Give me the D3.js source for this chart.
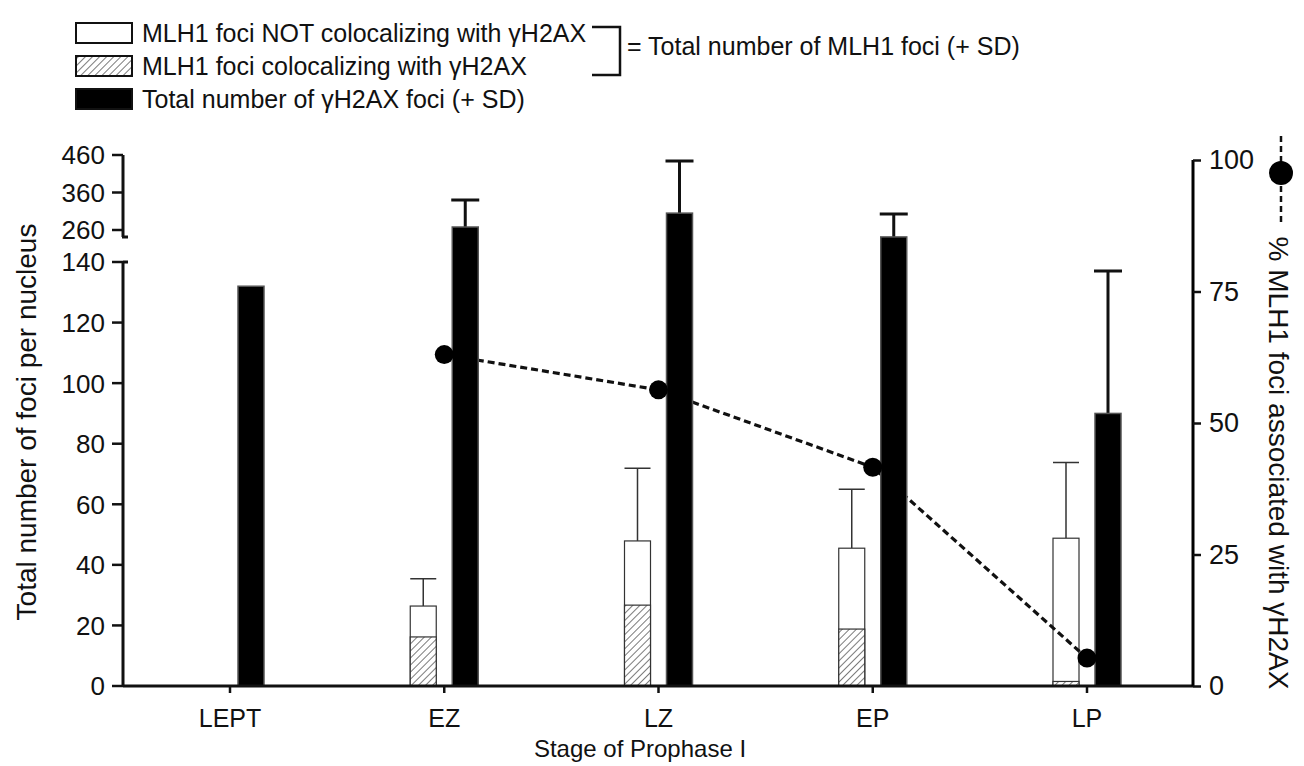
<!DOCTYPE html>
<html>
<head>
<meta charset="utf-8">
<script src="https://cdn.jsdelivr.net/npm/d3@7"></script>
<style>
  body { margin: 0; background: #fff; }
  text { font-family: "Liberation Sans", Arial, sans-serif; fill: #111; }
</style>
</head>
<body>
<div id="chart"></div>
<script>
// data
let stages = ["LEPT", "EZ", "LZ", "EP", "LP"];
let h2axMean = [132, 268, 305, 234, 90];      // total gH2AX foci
let h2axSD = [0, 72, 139, 69, 47];
let mlhTotal = [0, 26.4, 47.9, 45.5, 48.8];   // total MLH1 foci
let mlhColoc = [0, 16.2, 26.7, 18.8, 1.5];    // MLH1 colocalizing with gH2AX
let mlhSD = [0, 9, 24, 19.5, 25];
let pctAssoc = [null, 63, 56.3, 41.6, 5.3];   // % MLH1 associated with gH2AX
let lowTicks = [0, 20, 40, 60, 80, 100, 120, 140];
let highTicks = [260, 360, 460];
let rightTicks = [0, 25, 50, 75, 100];

let width = 1304, height = 766;
let left = 123, right = 1193, base = 686;

let svg = d3.select("#chart").append("svg")
  .attr("width", width)
  .attr("height", height);

let defs = svg.append("defs");
defs.append("pattern")
  .attr("id", "hatch")
  .attr("patternUnits", "userSpaceOnUse")
  .attr("width", 5).attr("height", 5)
  .attr("patternTransform", "rotate(45)")
  .call(p => {
    p.append("rect").attr("width", 5).attr("height", 5).attr("fill", "#fff");
    p.append("line").attr("x1", 0).attr("y1", 0).attr("x2", 0).attr("y2", 5)
      .attr("stroke", "#222").attr("stroke-width", 1.2);
  });

// x positions of stages
let x = d3.scalePoint().domain(stages).range([230, 1087]);

// broken left axis: 0-140 below, 260-460 above
let y = d3.scaleLinear()
  .domain([0, 140, 260, 460])
  .range([base, 262, 230, 155]);

let yRight = d3.scaleLinear().domain([0, 100]).range([base, 160]);

let barW = 26, gap = 8;
let rows = stages.map((s, i) => ({
  stage: s,
  h2ax: h2axMean[i], h2axSD: h2axSD[i],
  total: mlhTotal[i], coloc: mlhColoc[i], sd: mlhSD[i],
  pct: pctAssoc[i]
}));

// MLH1 bars
let mlh = rows.filter(d => d.total > 0);
svg.selectAll(".mlh-err")
  .data(mlh).enter().append("path")
  .attr("class", "mlh-err")
  .attr("d", d => {
    let cx = x(d.stage) - gap - barW / 2;
    let yt = y(d.total + d.sd);
    return "M" + cx + "," + y(d.total) + "V" + yt +
      "M" + (cx - barW / 2) + "," + yt + "H" + (cx + barW / 2);
  })
  .attr("fill", "none").attr("stroke", "#333").attr("stroke-width", 1.5);

svg.selectAll(".mlh-tot")
  .data(mlh).enter().append("rect")
  .attr("x", d => x(d.stage) - gap - barW)
  .attr("width", barW)
  .attr("y", d => y(d.total))
  .attr("height", d => base - y(d.total))
  .attr("fill", "#fff").attr("stroke", "#333").attr("stroke-width", 1.2);

svg.selectAll(".mlh-col")
  .data(mlh).enter().append("rect")
  .attr("x", d => x(d.stage) - gap - barW)
  .attr("width", barW)
  .attr("y", d => y(d.coloc))
  .attr("height", d => base - y(d.coloc))
  .attr("fill", "url(#hatch)").attr("stroke", "#333").attr("stroke-width", 1.2);

// dashed % line (over the MLH1 bars, under the black bars)
let linePts = rows.filter(d => d.pct != null);
let line = d3.line().x(d => x(d.stage)).y(d => yRight(d.pct));
svg.append("path")
  .datum(linePts)
  .attr("d", line)
  .attr("fill", "none")
  .attr("stroke", "#111")
  .attr("stroke-width", 3.2)
  .attr("stroke-dasharray", "7,4");

// gH2AX bars
svg.selectAll(".h2ax-err")
  .data(rows.filter(d => d.h2axSD > 0)).enter().append("path")
  .attr("d", d => {
    let cx = x(d.stage) + gap + barW / 2;
    let yt = y(d.h2ax + d.h2axSD);
    return "M" + cx + "," + y(d.h2ax) + "V" + yt +
      "M" + (cx - 14) + "," + yt + "H" + (cx + 14);
  })
  .attr("fill", "none").attr("stroke", "#111").attr("stroke-width", 3);

svg.selectAll(".h2ax")
  .data(rows).enter().append("rect")
  .attr("x", d => x(d.stage) + gap)
  .attr("width", barW)
  .attr("y", d => y(d.h2ax))
  .attr("height", d => base - y(d.h2ax))
  .attr("fill", "#000").attr("stroke", "#555").attr("stroke-width", 1.5);

// dots
svg.selectAll(".dot")
  .data(linePts).enter().append("circle")
  .attr("cx", d => x(d.stage))
  .attr("cy", d => yRight(d.pct))
  .attr("r", 9.5)
  .attr("fill", "#000");

// axes
let axisG = svg.append("g").attr("stroke", "#111").attr("fill", "none");
axisG.append("line").attr("x1", left).attr("x2", right)
  .attr("y1", base).attr("y2", base).attr("stroke-width", 3);
// lower left segment
axisG.append("line").attr("x1", left).attr("x2", left)
  .attr("y1", base).attr("y2", y(140)).attr("stroke-width", 3);
axisG.append("line").attr("x1", left).attr("x2", left + 5)
  .attr("y1", y(140)).attr("y2", y(140)).attr("stroke-width", 3);
// upper left segment
axisG.append("line").attr("x1", left).attr("x2", left)
  .attr("y1", y(460)).attr("y2", 237).attr("stroke-width", 3);
axisG.append("line").attr("x1", left - 1).attr("x2", left + 5)
  .attr("y1", 237).attr("y2", 237).attr("stroke-width", 3);

lowTicks.concat(highTicks).forEach(t => {
  axisG.append("line").attr("x1", left - 11).attr("x2", left)
    .attr("y1", y(t)).attr("y2", y(t)).attr("stroke-width", 2.5);
  svg.append("text").attr("x", left - 18).attr("y", y(t))
    .attr("dy", "0.36em").attr("text-anchor", "end")
    .attr("font-size", 26).text(t);
});

// right axis
let yAxisR = d3.axisRight(yRight).tickValues(rightTicks).tickSize(8).tickPadding(8);
let gR = svg.append("g").attr("transform", "translate(" + right + ",0)").call(yAxisR);
gR.select(".domain").attr("stroke-width", 3).attr("d", "M0," + base + "V" + yRight(100) + "H0");
gR.selectAll(".tick line").attr("stroke-width", 2.5).attr("stroke", "#111");
gR.selectAll(".tick text").attr("font-size", 27)
  .attr("font-family", "Liberation Sans, Arial, sans-serif").attr("fill", "#111");

// x ticks and labels
stages.forEach(s => {
  axisG.append("line").attr("x1", x(s)).attr("x2", x(s))
    .attr("y1", base).attr("y2", base + 7).attr("stroke-width", 2.5);
  svg.append("text").attr("x", x(s)).attr("y", 727)
    .attr("text-anchor", "middle").attr("font-size", 25).text(s);
});

svg.append("text").attr("x", 640).attr("y", 757)
  .attr("text-anchor", "middle").attr("font-size", 24).text("Stage of Prophase I");

svg.append("text")
  .attr("transform", "translate(36,422) rotate(-90)")
  .attr("text-anchor", "middle").attr("font-size", 28)
  .text("Total number of foci per nucleus");

svg.append("text")
  .attr("transform", "translate(1269,463) rotate(90)")
  .attr("text-anchor", "middle").attr("font-size", 28)
  .text("% MLH1 foci associated with γH2AX");

// right-title symbol
svg.append("line").attr("x1", 1281).attr("x2", 1281).attr("y1", 136).attr("y2", 226)
  .attr("stroke", "#111").attr("stroke-width", 2.5).attr("stroke-dasharray", "6,4");
svg.append("circle").attr("cx", 1281).attr("cy", 173).attr("r", 12).attr("fill", "#000");

// legend
let legendItems = [
  { label: "MLH1 foci NOT colocalizing with γH2AX", fill: "#fff", y: 23 },
  { label: "MLH1 foci colocalizing with γH2AX", fill: "url(#hatch)", y: 56 },
  { label: "Total number of γH2AX foci (+ SD)", fill: "#000", y: 89 }
];
let lg = svg.append("g");
legendItems.forEach(d => {
  lg.append("rect").attr("x", 76).attr("y", d.y).attr("width", 56).attr("height", 20)
    .attr("fill", d.fill).attr("stroke", "#111").attr("stroke-width", 2);
  lg.append("text").attr("x", 142).attr("y", d.y + 19).attr("font-size", 25).text(d.label);
});
lg.append("path").attr("d", "M592,27H620V75H592")
  .attr("fill", "none").attr("stroke", "#111").attr("stroke-width", 2.5);
lg.append("text").attr("x", 627).attr("y", 55).attr("font-size", 25)
  .text("= Total number of MLH1 foci (+ SD)");
</script>
</body>
</html>
